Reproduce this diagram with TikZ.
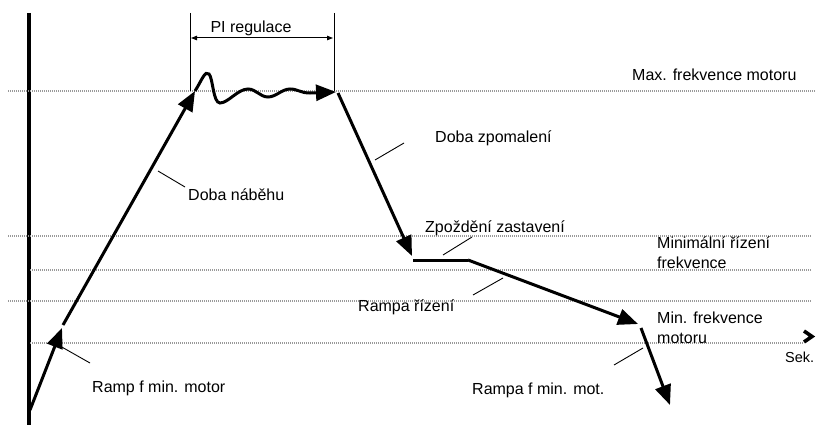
\documentclass[tikz,border=0pt]{standalone}
\usepackage{fontspec}
\setmainfont{Liberation Sans}
\usetikzlibrary{arrows.meta}
\begin{document}
\begin{tikzpicture}[x=1pt,y=-1pt,
  lbl/.style={inner sep=0pt, font=\fontsize{16}{19.5}\selectfont, align=left},
  curve/.style={line width=3pt, -{Triangle[length=20pt,width=16pt]}},
  plain/.style={line width=3pt},
  leader/.style={line width=0.9pt},
  dotline/.style={line width=1.1pt, gray!80, dash pattern=on 1pt off 1pt},
  thin/.style={line width=1pt}]
\useasboundingbox (0,0) rectangle (816,425);
% axis
\draw[line width=4pt] (29,13) -- (29,425);
% dotted levels
\draw[dotline] (8,91) -- (816,91);
\draw[dotline] (8,236) -- (812,236);
\draw[dotline] (30,270) -- (812,270);
\draw[dotline] (8,301) -- (812,301);
\draw[dotline] (30,343) -- (803,343);
% time axis tip
\coordinate (ch1) at (804,331);
\coordinate (ch2) at (812,336.5);
\coordinate (ch3) at (804,342);
\draw[line width=3.6pt, line join=miter] (ch1) -- (ch2) -- (ch3);
% path points
\coordinate (p0) at (30,410);
\coordinate (p1) at (62,328);
\coordinate (p1b) at (63,325);
\coordinate (p2) at (195,91);
\coordinate (p3) at (336,92);
\coordinate (p4) at (338,93);
\coordinate (p5) at (412,256);
\coordinate (p6) at (413,260);
\coordinate (p7) at (468,260);
\coordinate (p8) at (638,324);
\coordinate (p9) at (641,328);
\coordinate (p10) at (670,405);
\draw[curve] (p0) -- (p1);
\draw[curve] (p1b) -- (p2);
\draw[curve] (p2) .. controls (202,80) and (205,70) .. (209,74)
  .. controls (213,78) and (213,103) .. (220,103)
  .. controls (228,103) and (238,89) .. (248,89)
  .. controls (256,89) and (260,97) .. (268,97)
  .. controls (276,97) and (282,89) .. (290,89)
  .. controls (298,89) and (300,93) .. (310,93)
  -- (p3);
\draw[curve] (p4) -- (p5);
\draw[plain] (p6) -- (p7);
\draw[curve] (p7) -- (p8);
\draw[curve] (p9) -- (p10);
% PI regulace bracket
\coordinate (b1t) at (190,13);
\coordinate (b1b) at (190,91);
\coordinate (b2t) at (334,13);
\coordinate (b2b) at (334,91);
\draw[thin] (b1t) -- (b1b);
\draw[thin] (b2t) -- (b2b);
\coordinate (ba) at (191,38);
\coordinate (bb) at (333,38);
\draw[thin, {Triangle[length=6pt,width=4.5pt]}-{Triangle[length=6pt,width=4.5pt]}] (ba) -- (bb);
\node[lbl] (pi) at (251,28) {PI regulace};
% labels
\node[lbl, anchor=west] (maxf) at (632,75) {Max. frekvence motoru};
\node[lbl, anchor=west] (zpom) at (435,138) {Doba zpomalení};
\node[lbl, anchor=west] (nab) at (188,195) {Doba náběhu};
\node[lbl, anchor=west] (zast) at (425,228) {Zpoždění zastavení};
\node[lbl, anchor=west] (minr) at (657,252.5) {Minimální řízení\\frekvence};
\node[lbl, anchor=west] (rampr) at (358,307) {Rampa řízení};
\node[lbl, anchor=west] (minf) at (657,328) {Min. frekvence\\motoru};
\node[lbl, anchor=west, font=\fontsize{14.5}{17}\selectfont] (sek) at (785,357) {Sek.};
\node[lbl, anchor=west] (rfm) at (472,390) {Rampa f min. mot.};
\node[lbl, anchor=west] (rfmm) at (92,388) {Ramp f min. motor};
% leaders
\coordinate (l1a) at (375,160); \coordinate (l1b) at (404,143);
\coordinate (l2a) at (158,171); \coordinate (l2b) at (185,187);
\coordinate (l3a) at (443,255); \coordinate (l3b) at (472,237);
\coordinate (l4a) at (473,295); \coordinate (l4b) at (503,278);
\coordinate (l5a) at (614,365); \coordinate (l5b) at (643,348);
\coordinate (l6a) at (60,346); \coordinate (l6b) at (90,363);
\draw[leader] (l1a) -- (l1b);
\draw[leader] (l2a) -- (l2b);
\draw[leader] (l3a) -- (l3b);
\draw[leader] (l4a) -- (l4b);
\draw[leader] (l5a) -- (l5b);
\draw[leader] (l6a) -- (l6b);
\end{tikzpicture}
\end{document}
